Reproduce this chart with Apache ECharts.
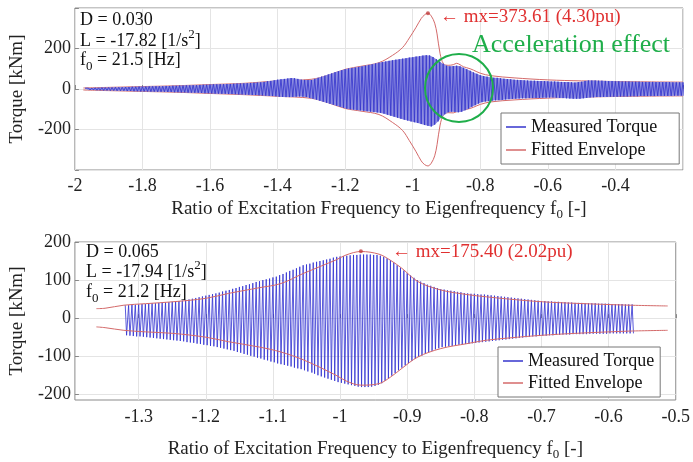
<!DOCTYPE html>
<html><head><meta charset="utf-8">
<script src="https://cdn.jsdelivr.net/npm/echarts@6/dist/echarts.min.js"></script>
<style>html,body{margin:0;padding:0;background:#fff}#c{width:693px;height:462px}</style>
</head><body><div id="c"></div>
<script>
// ---------- top panel data (D = 0.030) ----------
const topX0 = -1.97, topStep = 0.01;   // one oscillation cycle per step
const topUpper = [4,5,5,6,6,7,7,8,
8,9,9,9,10,10,11,11,12,12,
12,13,13,14,14,14,15,15,16,16,
17,17,18,18,19,19,20,21,21,22,
23,23,24,24,25,25,26,27,27,28,
29,30,31,32,33,35,38,40,43,46,
48,50,52,54,53,50,46,45,44,45,
50,55,61,66,72,77,83,88,93,98,
101,104,106,109,112,115,119,122,126,130,
133,136,139,142,145,147,150,152,155,157,
160,162,165,167,166,158,147,135,125,115,
112,113,115,112,105,98,90,82,75,68,
64,61,58,56,55,53,51,49,48,46,
45,44,43,42,41,41,40,39,39,38,
37,37,36,35,34,34,33,32,34,36,
40,42,42,42,41,41,40,39,39,38,
38,37,37,37,36,36,36,35,35,35,
35,34,34,34,34,34,33,33,33,33];
const topLower = [4,5,5,6,6,7,7,8,
8,9,9,9,10,10,11,11,12,12,
12,13,13,14,14,14,15,15,16,16,
17,17,18,18,19,19,20,21,21,22,
23,23,24,24,25,25,26,27,27,28,
29,30,30,31,32,33,34,35,36,38,
39,40,40,39,38,37,38,40,44,48,
53,58,63,68,73,78,83,88,93,98,
100,102,104,106,108,110,112,114,116,118,
122,127,132,137,142,147,152,156,160,164,
168,173,178,182,185,176,160,140,125,115,
112,113,115,112,105,97,88,80,72,65,
62,60,58,56,55,54,52,50,49,48,
47,46,46,45,45,44,44,43,43,42,
42,43,44,45,46,47,48,48,48,46,
44,42,41,40,40,39,39,38,38,38,
37,37,37,36,36,36,35,35,35,35,
35,34,34,34,34,34,33,33,33,33];
const topEnvX = [-1.975,-1.9,-1.8,-1.7,-1.6,-1.5,-1.4,-1.3,-1.25,-1.2,-1.15,-1.1,-1.06,-1.03,-1.01,-0.99,-0.975,-0.965,-0.955,-0.945,-0.935,-0.928,-0.919,-0.909,-0.895,-0.88,-0.87,-0.86,-0.85,-0.83,-0.82,-0.8,-0.77,-0.7,-0.6,-0.5,-0.4,-0.3,-0.2];
const topEnvUp = [5,8,12,16,22,28,40,48,68,97,113,130,166,205,252,305,348,366,374,360,325,272,174,125,117,120,127,120,110,100,93,78,66,55,45,40,37,35,34];
const topEnvLow = [-5,-8,-12,-16,-22,-28,-36,-46,-68,-96,-110,-126,-165,-205,-255,-310,-355,-373,-380,-366,-330,-275,-178,-128,-117,-118,-112,-110,-104,-96,-90,-76,-64,-54,-45,-40,-37,-35,-34];
const topPeak = [-0.955, 373.61];
const topXTicks = [-2,-1.8,-1.6,-1.4,-1.2,-1,-0.8,-0.6,-0.4,-0.2];
const topXLabels = [-2,-1.8,-1.6,-1.4,-1.2,-1,-0.8,-0.6,-0.4];
const topYTicks = [-400,-200,0,200,400];
const topYLabels = [-200,0,200];

// ---------- bottom panel data (D = 0.065) ----------
const botX0 = -1.32, botStep = 0.005;
const botUpper = [34,34,35,35,36,37,37,38,39,39,40,41,41,42,43,
44,45,46,48,49,51,53,55,57,59,61,63,65,67,70,72,74,
77,79,82,84,87,89,92,95,97,100,102,104,107,109,
113,116,120,124,127,131,135,139,
141,143,146,148,150,152,154,156,159,161,
162,163,164,165,166,166,167,
167,167,167,166,166,
164,161,157,152,
146,139,132,
125,118,112,106,100,
96,92,88,85,82,79,76,
75,73,72,71,69,68,66,65,
64,64,63,62,62,61,
60,59,58,57,56,55,54,53,52,51,50,49,48,47,46,45,
45,44,44,43,43,42,42,41,41,40,
40,40,39,39,39,39,38,38,38,38,37,37,37,37,36,36,36];
const botLower = [45,46,47,48,48,49,50,51,52,53,54,55,56,57,58,
59,60,61,63,64,65,67,68,70,71,73,74,76,78,80,82,84,
86,89,91,94,96,99,101,104,106,109,111,114,116,119,
121,123,125,127,130,132,134,137,
140,143,146,150,153,156,159,162,165,168,
170,172,174,176,178,180,181,
181,181,180,178,175,
171,165,158,151,
144,137,130,
124,118,112,107,102,
98,94,90,86,82,79,76,
75,74,73,72,70,69,68,67,
66,65,64,63,62,61,
60,59,58,57,56,55,54,53,52,51,50,49,48,48,47,46,
46,45,45,44,44,43,43,43,42,42,
42,42,42,41,41,41,41,41,41,40,40,40,40,40,40,40,40];
const botEnvX = [-1.363,-1.35,-1.322,-1.29,-1.249,-1.2,-1.166,-1.12,-1.088,-1.054,-1.006,-0.991,-0.969,-0.942,-0.925,-0.908,-0.884,-0.85,-0.811,-0.782,-0.748,-0.699,-0.65,-0.568,-0.512];
const botEnvUp = [25,26,34,38,43,52,65,80,91,118,153,166,175,168,152,131,96,74,62,56,50,43,39,34,32];
const botEnvLow = [-23,-25,-32,-36,-40,-50,-62,-76,-89,-110,-150,-165,-176,-172,-155,-132,-102,-80,-67,-58,-52,-45,-40,-34,-32];
const botPeak = [-0.969, 175.40];
const botXTicks = [-1.3,-1.2,-1.1,-1,-0.9,-0.8,-0.7,-0.6,-0.5];
const botYTicks = [-200,-100,0,100,200];

// ---------- build ----------
const serif = '"Liberation Serif","Times New Roman",serif';
const r2 = v => +(+v).toFixed(3);
function osc(x0, step, up, low) {
  const d = [];
  for (let i = 0; i < up.length; i++) {
    d.push([r2(x0 + i * step), up[i]]);
    d.push([r2(x0 + i * step + step / 2), -low[i]]);
  }
  return d;
}
const pairs = (xs, ys) => xs.map((x, i) => [x, ys[i]]);
const bandPts = (x0, step, arr, sign) => arr.map((v, i) => [r2(x0 + i * step + (sign < 0 ? step / 2 : 0)), sign * v]);

const blue = '#3434cc', red = '#d46a6a';
const tickStyle = {inside: true, length: 4, lineStyle: {color: '#888'}};
const gridLine = {show: true, lineStyle: {color: '#e4e4e4', width: 1}};
const labelStyle = {fontFamily: serif, fontSize: 18, color: '#222'};
const richName = {
  a: {fontFamily: serif, fontSize: 19, color: '#222', lineHeight: 24, verticalAlign: 'middle'},
  s: {fontFamily: serif, fontSize: 13, color: '#222', lineHeight: 11, verticalAlign: 'bottom'}
};
const xName = '{a|Ratio of Excitation Frequency to Eigenfrequency f}{s|0}{a| [-]}';

const rich = {
  a: {fontFamily: serif, fontSize: 18, lineHeight: 26, verticalAlign: 'middle', fill: '#111'},
  sub: {fontFamily: serif, fontSize: 13, lineHeight: 12, verticalAlign: 'bottom', fill: '#111'},
  sup: {fontFamily: serif, fontSize: 13, lineHeight: 12, verticalAlign: 'top', fill: '#111'}
};
function txt(x, y, text) {
  return {type: 'text', x: x, y: y, z: 100,
    style: {text: text, rich: rich, verticalAlign: 'middle', align: 'left'}};
}

const option = {
  animation: false,
  backgroundColor: '#fff',
  grid: [
    {left: 70, top: 8, right: 10, height: 162, show: true, borderColor: '#8a8a8a', borderWidth: 1, backgroundColor: '#fff'},
    {left: 70, top: 242, right: 10, height: 158, show: true, borderColor: '#8a8a8a', borderWidth: 1, backgroundColor: '#fff'}
  ],
  xAxis: [
    {gridIndex: 0, type: 'value', min: -2, max: -0.2,
     axisLine: {show: false}, axisTick: Object.assign({customValues: topXTicks}, tickStyle),
     axisLabel: Object.assign({customValues: topXLabels, margin: 7, formatter: v => String(r2(v))}, labelStyle),
     splitLine: gridLine,
     name: xName, nameLocation: 'middle', nameGap: 27, nameTextStyle: {rich: richName}},
    {gridIndex: 1, type: 'value', min: -1.395, max: -0.5,
     axisLine: {show: false}, axisTick: Object.assign({customValues: botXTicks}, tickStyle),
     axisLabel: Object.assign({customValues: botXTicks, margin: 8, formatter: v => String(r2(v))}, labelStyle),
     splitLine: gridLine,
     name: xName, nameLocation: 'middle', nameGap: 37, nameTextStyle: {rich: richName}}
  ],
  yAxis: [
    {gridIndex: 0, type: 'value', min: -400, max: 400,
     axisLine: {show: false}, axisTick: Object.assign({customValues: topYTicks}, tickStyle),
     axisLabel: Object.assign({customValues: topYLabels, margin: 4}, labelStyle),
     splitLine: gridLine,
     name: 'Torque [kNm]', nameLocation: 'middle', nameGap: 37,
     nameTextStyle: {fontFamily: serif, fontSize: 19, color: '#222'}},
    {gridIndex: 1, type: 'value', min: -215, max: 200,
     axisLine: {show: false}, axisTick: Object.assign({customValues: botYTicks}, tickStyle),
     axisLabel: Object.assign({customValues: botYTicks, margin: 4}, labelStyle),
     splitLine: gridLine,
     name: 'Torque [kNm]', nameLocation: 'middle', nameGap: 37,
     nameTextStyle: {fontFamily: serif, fontSize: 19, color: '#222'}}
  ],
  legend: [
    {orient: 'vertical', left: 501, top: 113, itemWidth: 20, itemHeight: 1.5, itemGap: 5,
     padding: [5, 22, 5, 5], borderColor: '#777', borderWidth: 1, backgroundColor: '#fff',
     textStyle: {fontFamily: serif, fontSize: 18, color: '#111'},
     data: [{name: 'Measured Torque', icon: 'rect'}, {name: 'Fitted Envelope', icon: 'rect'}]},
    {orient: 'vertical', left: 498, top: 347, itemWidth: 20, itemHeight: 1.5, itemGap: 4,
     padding: [5, 6, 5, 5], borderColor: '#777', borderWidth: 1, backgroundColor: '#fff',
     textStyle: {fontFamily: serif, fontSize: 18, color: '#111'},
     data: [{name: 'Measured Torque', icon: 'rect'}, {name: 'Fitted Envelope', icon: 'rect'}]}
  ],
  series: [
    // top: envelope first (beneath the measured band)
    {type: 'line', name: 'Fitted Envelope', xAxisIndex: 0, yAxisIndex: 0, symbol: 'none', smooth: 0.35,
     data: pairs(topEnvX, topEnvUp), itemStyle: {color: red}, lineStyle: {color: red, width: 1}, z: 1},
    {type: 'line', name: 'Fitted Envelope', xAxisIndex: 0, yAxisIndex: 0, symbol: 'none', smooth: 0.35,
     data: pairs(topEnvX, topEnvLow), itemStyle: {color: red}, lineStyle: {color: red, width: 1}, z: 1},
    {type: 'line', name: 'bandU', xAxisIndex: 0, yAxisIndex: 0, symbol: 'none', silent: true, z: 2,
     data: bandPts(topX0, topStep, topUpper, 1), lineStyle: {width: 0}, areaStyle: {color: '#8c8ce0', opacity: 1}},
    {type: 'line', name: 'bandL', xAxisIndex: 0, yAxisIndex: 0, symbol: 'none', silent: true, z: 2,
     data: bandPts(topX0, topStep, topLower, -1), lineStyle: {width: 0}, areaStyle: {color: '#8c8ce0', opacity: 1}},
    {type: 'line', name: 'Measured Torque', xAxisIndex: 0, yAxisIndex: 0, symbol: 'none', sampling: null, z: 3,
     data: osc(topX0, topStep, topUpper, topLower), itemStyle: {color: blue}, lineStyle: {color: blue, width: 0.8}},
    {type: 'scatter', name: 'peakTop', xAxisIndex: 0, yAxisIndex: 0, symbolSize: 4, data: [topPeak],
     itemStyle: {color: '#c04040'}, z: 6},
    // bottom
    {type: 'line', name: 'Measured Torque', xAxisIndex: 1, yAxisIndex: 1, symbol: 'none', sampling: null, z: 3,
     data: osc(botX0, botStep, botUpper, botLower), itemStyle: {color: blue}, lineStyle: {color: '#2e2ed0', width: 0.8}},
    {type: 'line', name: 'Fitted Envelope', xAxisIndex: 1, yAxisIndex: 1, symbol: 'none', smooth: 0.35,
     data: pairs(botEnvX, botEnvUp), itemStyle: {color: red}, lineStyle: {color: red, width: 1}, z: 4},
    {type: 'line', name: 'Fitted Envelope', xAxisIndex: 1, yAxisIndex: 1, symbol: 'none', smooth: 0.35,
     data: pairs(botEnvX, botEnvLow), itemStyle: {color: red}, lineStyle: {color: red, width: 1}, z: 4},
    {type: 'scatter', name: 'peakBot', xAxisIndex: 1, yAxisIndex: 1, symbolSize: 4, data: [botPeak],
     itemStyle: {color: '#c04040'}, z: 6}
  ],
  graphic: [
    txt(80, 20, '{a|D = 0.030}'),
    txt(80, 41, '{a|L = -17.82 [1/s}{sup|2}{a|]}'),
    txt(80, 60, '{a|f}{sub|0}{a| = 21.5 [Hz]}'),
    txt(86, 252, '{a|D = 0.065}'),
    txt(86, 272, '{a|L = -17.94 [1/s}{sup|2}{a|]}'),
    txt(86, 292, '{a|f}{sub|0}{a| = 21.2 [Hz]}'),
    {type: 'text', x: 440, y: 17, z: 100, style: {text: '\u2190 mx=373.61 (4.30pu)', fill: '#e03030',
      font: '19px ' + serif, verticalAlign: 'middle'}},
    {type: 'text', x: 392, y: 252, z: 100, style: {text: '\u2190 mx=175.40 (2.02pu)', fill: '#e03030',
      font: '19px ' + serif, verticalAlign: 'middle'}},
    {type: 'text', x: 472, y: 45, z: 100, style: {text: 'Acceleration effect', fill: '#1fae4a',
      font: '26px ' + serif, verticalAlign: 'middle'}},
    {type: 'circle', shape: {cx: 459, cy: 88, r: 34}, z: 100,
     style: {fill: 'none', stroke: '#1fae4a', lineWidth: 2}}
  ]
};
const chart = echarts.init(document.getElementById('c'));
chart.setOption(option);
</script>
</body></html>
